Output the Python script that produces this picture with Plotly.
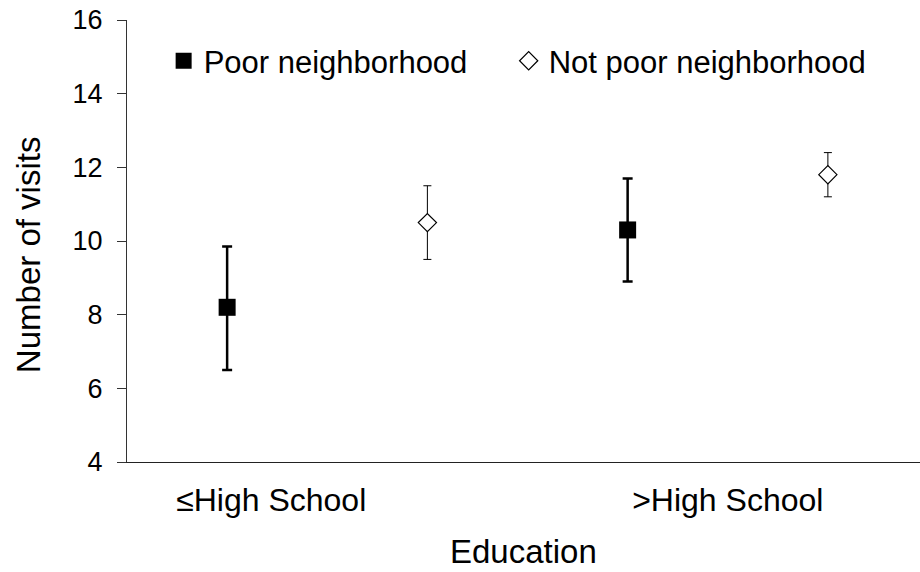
import plotly.graph_objects as go

# Mean number of visits by education level and neighborhood poverty, with error bars
categories = ["≤High School", ">High School"]
series_names = ["Poor neighborhood", "Not poor neighborhood"]

poor_mean = [8.2, 10.3]
poor_upper = [9.85, 11.7]
poor_lower = [6.5, 8.9]

notpoor_mean = [10.5, 11.8]
notpoor_upper = [11.5, 12.4]
notpoor_lower = [9.5, 11.2]

y_ticks = [4, 6, 8, 10, 12, 14, 16]

FONT = "Liberation Sans, Arial, Helvetica, sans-serif"

# each education group spans two slots on a numeric x axis: poor first, then not poor
def slot(group, offset):
    return [2 * g + 0.5 + offset for g in range(len(group))]

fig = go.Figure()

fig.add_trace(go.Scatter(
    x=slot(categories, 0), y=poor_mean,
    mode="markers",
    name=series_names[0],
    legend="legend",
    marker=dict(symbol="square", size=17, color="black"),
    error_y=dict(
        type="data", symmetric=False,
        array=[u - m for u, m in zip(poor_upper, poor_mean)],
        arrayminus=[m - l for m, l in zip(poor_mean, poor_lower)],
        color="black", thickness=2.5, width=5,
    ),
))

fig.add_trace(go.Scatter(
    x=slot(categories, 1), y=notpoor_mean,
    mode="markers",
    name=series_names[1],
    legend="legend2",
    marker=dict(symbol="diamond", size=14, color="white",
                line=dict(color="black", width=1.2)),
    error_y=dict(
        type="data", symmetric=False,
        array=[u - m for u, m in zip(notpoor_upper, notpoor_mean)],
        arrayminus=[m - l for m, l in zip(notpoor_mean, notpoor_lower)],
        color="black", thickness=1, width=4,
    ),
))

legend_style = dict(
    orientation="h", xanchor="left", y=0.907, yanchor="middle",
    font=dict(size=31, family=FONT, color="black"),
    bgcolor="rgba(0,0,0,0)",
)

fig.update_layout(
    width=920, height=572,
    margin=dict(l=127, r=0, t=20, b=110),
    paper_bgcolor="white", plot_bgcolor="white",
    font=dict(family=FONT, color="black"),
    showlegend=True,
    legend=dict(x=0.0462, **legend_style),
    legend2=dict(x=0.4813, **legend_style),
    xaxis=dict(
        range=[0, 3.96], showgrid=False, zeroline=False,
        showline=True, linecolor="#222", linewidth=1,
        tickmode="array", tickvals=[0.72, 3.0], ticktext=categories,
        ticks="", tickfont=dict(size=32, family=FONT, color="black"),
        ticklabelstandoff=10,
    ),
    yaxis=dict(
        range=[4, 16], showgrid=False, zeroline=False,
        showline=True, linecolor="#333", linewidth=1,
        tickmode="array", tickvals=y_ticks,
        ticks="outside", ticklen=9, tickcolor="#333", tickwidth=1,
        tickfont=dict(size=27, family=FONT, color="black"),
        ticklabelstandoff=9,
    ),
    annotations=[
        dict(text="Number of visits", xref="paper", yref="paper",
             x=0, y=0.468, xshift=-99, textangle=-90,
             showarrow=False, font=dict(size=33, family=FONT, color="black"),
             xanchor="center", yanchor="middle"),
        dict(text="Education", xref="paper", yref="paper",
             x=0.5, y=0, yshift=-89,
             showarrow=False, font=dict(size=33, family=FONT, color="black"),
             xanchor="center", yanchor="middle"),
    ],
)

fig.write_html("out.html")
